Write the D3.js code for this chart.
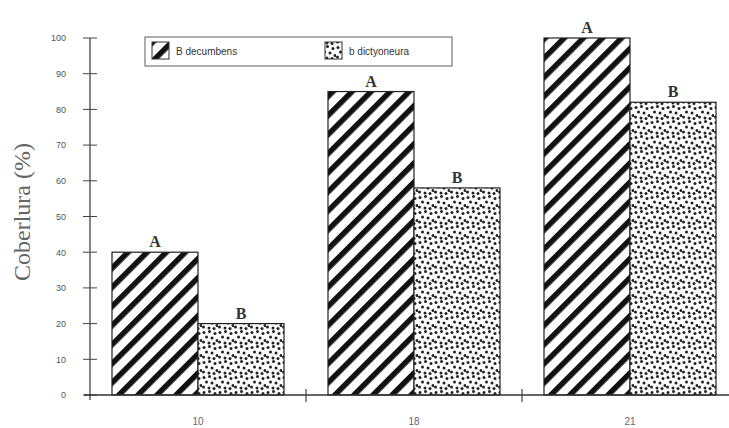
<!DOCTYPE html>
<html><head><meta charset="utf-8">
<script src="https://cdn.jsdelivr.net/npm/d3@7"></script>
<style>body{margin:0;background:#fff}svg{display:block}</style>
</head><body>
<svg id="chart" width="729" height="428"></svg>
<script>
const categories = ["10", "18", "21"];
const seriesNames = ["B decumbens", "b dictyoneura"];
const decumbens = [40, 85, 100];
const dictyoneura = [20, 58, 82];
const lettersDecumbens = ["A", "A", "A"];
const lettersDictyoneura = ["B", "B", "B"];
const yTicks = [0, 10, 20, 30, 40, 50, 60, 70, 80, 90, 100];
const yLabel = "Coberlura (%)";

const svg = d3.select("#chart");
const defs = svg.append("defs");

// stripe pattern
const ps = defs.append("pattern").attr("id", "stripes").attr("patternUnits", "userSpaceOnUse")
  .attr("width", 13.5).attr("height", 13.5).attr("patternTransform", "rotate(45)");
ps.append("rect").attr("width", 13.5).attr("height", 13.5).attr("fill", "#fff");
ps.append("rect").attr("x", 0).attr("width", 5.5).attr("height", 13.5).attr("fill", "#111");

// dot pattern
const pd = defs.append("pattern").attr("id", "dots").attr("patternUnits", "userSpaceOnUse")
  .attr("width", 16).attr("height", 15);
pd.append("rect").attr("width", 16).attr("height", 15).attr("fill", "#fff");
[[2,2.5],[7.5,1.5],[13,3.5],[4.5,7],[10,8],[15,10.5],[1.5,12],[7,13],[12,13.5]].forEach(([cx,cy]) =>
  pd.append("circle").attr("cx", cx).attr("cy", cy).attr("r", 1.5).attr("fill", "#222"));

const x0 = d3.scaleBand().domain(categories).range([90, 738]);
const x1 = d3.scaleBand().domain(seriesNames).range([22, x0.bandwidth() - 22]);
const y = d3.scaleLinear().domain([0, 100]).range([395, 38]);

const data = categories.map((c, i) => ({
  cat: c,
  vals: [
    {s: seriesNames[0], v: decumbens[i], l: lettersDecumbens[i], fill: "url(#stripes)"},
    {s: seriesNames[1], v: dictyoneura[i], l: lettersDictyoneura[i], fill: "url(#dots)"}
  ]
}));

const g = svg.selectAll("g.grp").data(data).enter().append("g")
  .attr("transform", d => `translate(${x0(d.cat)},0)`);
g.selectAll("rect").data(d => d.vals).enter().append("rect")
  .attr("x", d => x1(d.s)).attr("width", x1.bandwidth())
  .attr("y", d => y(d.v)).attr("height", d => y(0) - y(d.v))
  .attr("fill", d => d.fill).attr("stroke", "#222").attr("stroke-width", 1.2);
g.selectAll("text").data(d => d.vals).enter().append("text")
  .attr("x", d => x1(d.s) + x1.bandwidth() / 2).attr("y", d => y(d.v) - 5)
  .attr("text-anchor", "middle").attr("font-family", "Liberation Serif")
  .attr("font-size", 16).attr("font-weight", "bold").attr("fill", "#333")
  .text(d => d.l);

// Y axis
const yAxis = d3.axisLeft(y).tickValues(yTicks).tickSize(0).tickPadding(24);
const ya = svg.append("g").attr("transform", "translate(90,0)").call(yAxis);
ya.select(".domain").remove();
ya.selectAll("text").attr("font-family", "Liberation Sans").attr("font-size", 9).attr("fill", "#555");
svg.append("line").attr("x1", 90).attr("x2", 90).attr("y1", y(100)).attr("y2", y(0) + 5)
  .attr("stroke", "#333").attr("stroke-width", 1.2);
svg.selectAll("line.yt").data(yTicks).enter().append("line")
  .attr("x1", 83).attr("x2", 97).attr("y1", d => y(d)).attr("y2", d => y(d))
  .attr("stroke", "#444").attr("stroke-width", 1);

// X axis
svg.append("line").attr("x1", 84).attr("x2", 729).attr("y1", y(0)).attr("y2", y(0))
  .attr("stroke", "#333").attr("stroke-width", 1.3);
svg.selectAll("line.xt").data(categories.slice(1)).enter().append("line")
  .attr("x1", d => x0(d)).attr("x2", d => x0(d)).attr("y1", y(0) - 6).attr("y2", y(0) + 7)
  .attr("stroke", "#444").attr("stroke-width", 1.2);
svg.selectAll("text.xl").data(categories).enter().append("text")
  .attr("x", d => x0(d) + x0.bandwidth() / 2).attr("y", 425)
  .attr("text-anchor", "middle").attr("font-family", "Liberation Sans")
  .attr("font-size", 10).attr("fill", "#666").text(d => d);

// Y label
svg.append("text").attr("transform", "translate(30,212) rotate(-90)")
  .attr("text-anchor", "middle").attr("font-family", "Liberation Serif")
  .attr("font-size", 24).attr("fill", "#666").text(yLabel);

// Legend
const lg = svg.append("g");
lg.append("rect").attr("x", 145).attr("y", 37).attr("width", 307).attr("height", 29)
  .attr("fill", "#fff").attr("stroke", "#777").attr("stroke-width", 1.2);
const items = [{n: seriesNames[0], fill: "url(#stripes)", x: 152}, {n: seriesNames[1], fill: "url(#dots)", x: 325}];
items.forEach(it => {
  lg.append("rect").attr("x", it.x).attr("y", 42).attr("width", 17).attr("height", 17)
    .attr("fill", it.fill).attr("stroke", "#333").attr("stroke-width", 1);
  lg.append("text").attr("x", it.x + 24).attr("y", 54.5).attr("font-family", "Liberation Sans")
    .attr("font-size", 10).attr("fill", "#333").text(it.n);
});
</script>
</body></html>
